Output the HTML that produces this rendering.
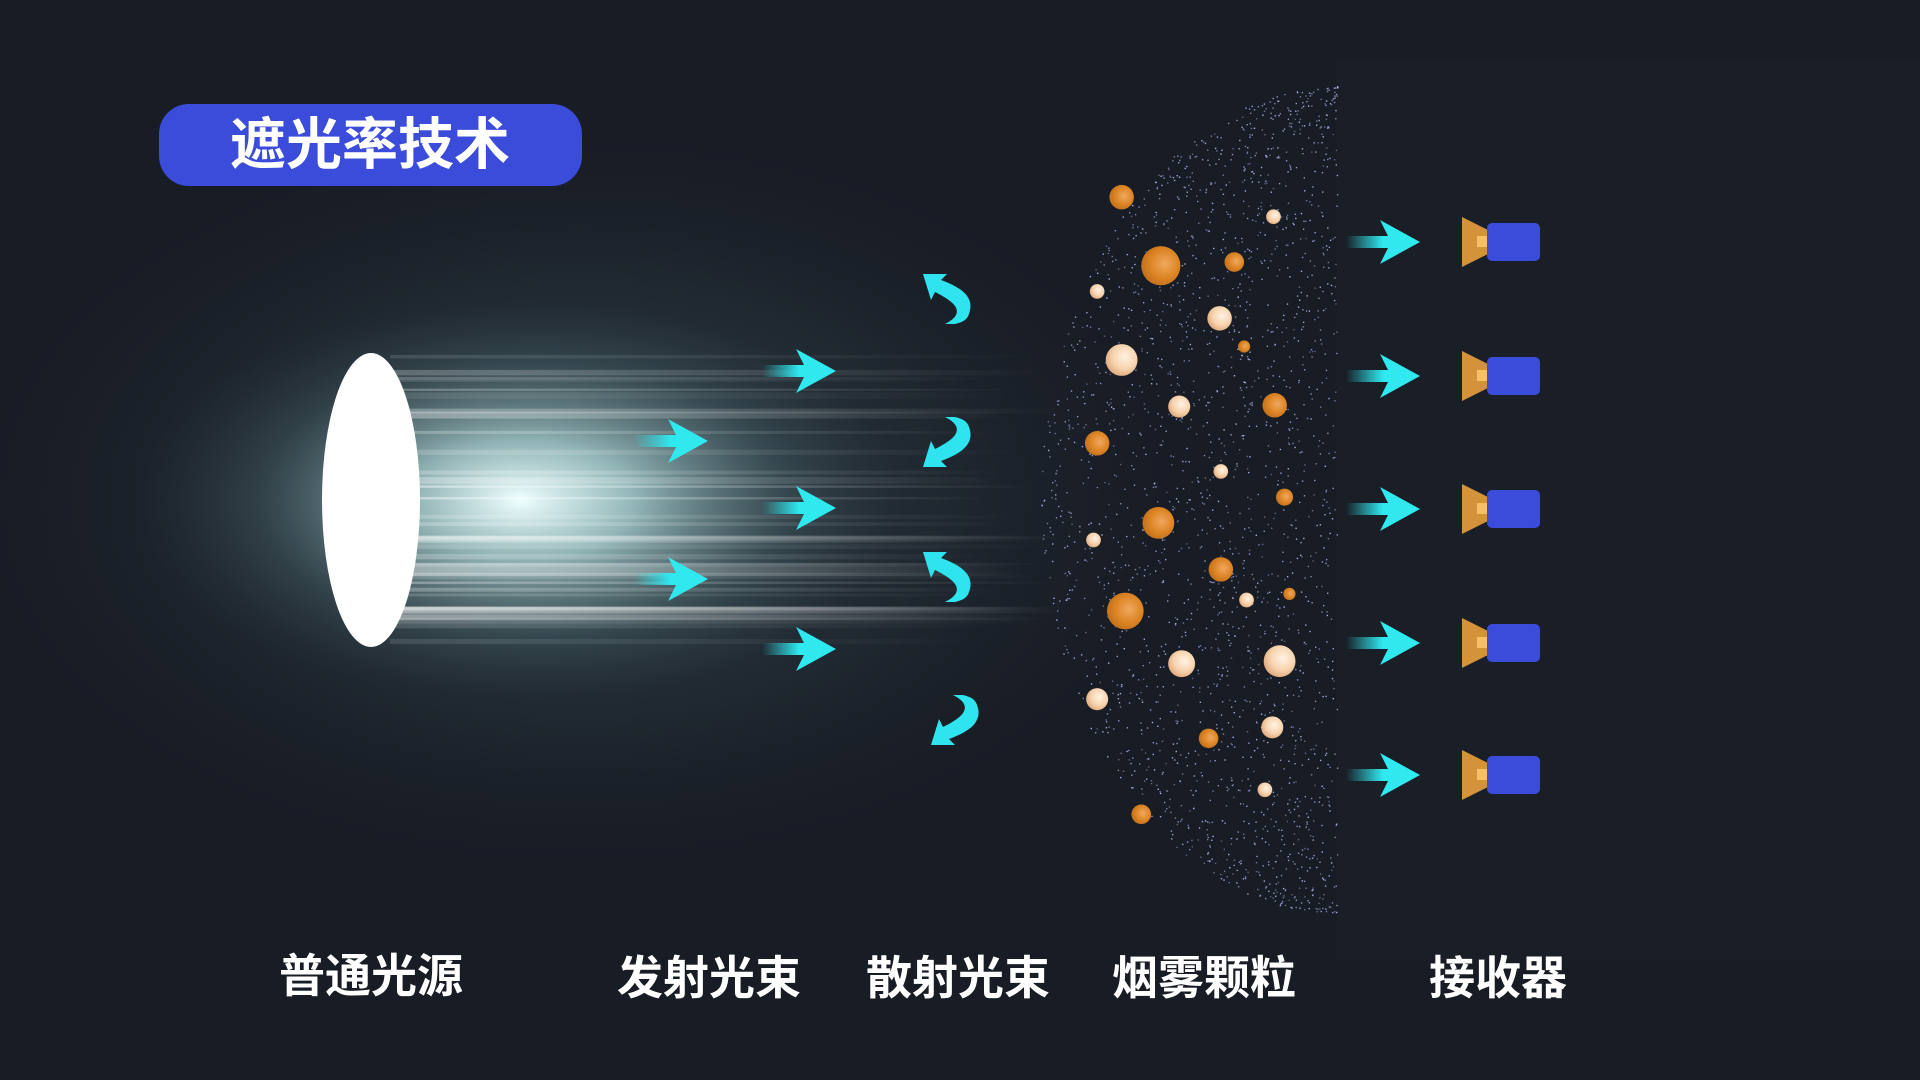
<!DOCTYPE html>
<html><head><meta charset="utf-8"><style>
html,body{margin:0;padding:0;background:#181c25;}
svg{display:block}
text{font-family:"Liberation Sans","Noto Sans CJK SC",sans-serif;font-weight:bold;fill:#fff}
</style></head><body>
<svg id="s" width="1920" height="1080" viewBox="0 0 1920 1080" xmlns="http://www.w3.org/2000/svg">
<defs>
<radialGradient id="glow" cx="0.5" cy="0.5" r="0.5">
<stop offset="0" stop-color="#5d7a80" stop-opacity="0.8"/>
<stop offset="0.35" stop-color="#34474f" stop-opacity="0.55"/>
<stop offset="0.7" stop-color="#222c35" stop-opacity="0.35"/>
<stop offset="1" stop-color="#181c25" stop-opacity="0"/>
</radialGradient>
<radialGradient id="core" cx="0.5" cy="0.5" r="0.5">
<stop offset="0" stop-color="#f0ffff" stop-opacity="1"/>
<stop offset="0.3" stop-color="#b5dede" stop-opacity="0.7"/>
<stop offset="0.7" stop-color="#5a7b80" stop-opacity="0.25"/>
<stop offset="1" stop-color="#3a5058" stop-opacity="0"/>
</radialGradient>
<linearGradient id="beam" x1="0" x2="1">
<stop offset="0" stop-color="#ffffff" stop-opacity="0.8"/>
<stop offset="0.6" stop-color="#ffffff" stop-opacity="0.35"/>
<stop offset="1" stop-color="#ffffff" stop-opacity="0"/>
</linearGradient>
<linearGradient id="arr" x1="0" x2="1">
<stop offset="0" stop-color="#2fe9ef" stop-opacity="0"/>
<stop offset="0.5" stop-color="#2fe9ef"/>
<stop offset="1" stop-color="#2fe9ef"/>
</linearGradient>
<radialGradient id="org" cx="0.6" cy="0.45" r="0.6">
<stop offset="0" stop-color="#f0a860"/><stop offset="0.6" stop-color="#dd8525"/><stop offset="1" stop-color="#c2701c"/>
</radialGradient>
<radialGradient id="pale" cx="0.6" cy="0.4" r="0.65">
<stop offset="0" stop-color="#fff3e3"/><stop offset="0.6" stop-color="#f6d2ad"/><stop offset="1" stop-color="#dfa77a"/>
</radialGradient>
<g id="ra"><path d="M-34,-6 L8,-6 L0,-22 L40,0 L0,22 L8,6 L-34,6 Z" fill="url(#arr)"/></g>
<g id="ca"><path d="M-22,-26 L2,-26 L-4,-20 C18,-12 30,-2 24,14 C22,20 18,22 10,24 L0,24 C12,18 14,12 10,6 C6,0 -6,-6 -10,-8 L-14,0 Z" fill="#2fe3ef"/></g>
</defs>
<rect width="1920" height="1080" fill="#181c25"/>
<rect x="1337" y="60" width="583" height="900" fill="#1a1e27"/>
<ellipse cx="580" cy="500" rx="640" ry="390" fill="url(#glow)"/>
<ellipse cx="520" cy="500" rx="380" ry="200" fill="url(#core)"/>
<g id="beams" opacity="0.9"></g>
<g id="dots"></g>
<g id="balls"></g>
<ellipse cx="371" cy="500" rx="49" ry="147" fill="#fff"/>
<rect x="159" y="104" width="423" height="82" rx="30" fill="#3a4cd9"/>
<text x="370" y="164" font-size="56" text-anchor="middle">遮光率技术</text>
<use href="#ra" x="796" y="371"/>
<use href="#ra" x="668" y="441"/>
<use href="#ra" x="796" y="508"/>
<use href="#ra" x="668" y="579"/>
<use href="#ra" x="796" y="649"/>
<use href="#ra" x="1380" y="242"/>
<use href="#ra" x="1380" y="376"/>
<use href="#ra" x="1380" y="509"/>
<use href="#ra" x="1380" y="643"/>
<use href="#ra" x="1380" y="775"/>
<use href="#ca" x="945" y="300"/>
<use href="#ca" transform="translate(945 441) scale(1 -1)"/>
<use href="#ca" x="945" y="578"/>
<use href="#ca" transform="translate(953 719) scale(1 -1)"/>
<g id="rec"></g>
<g font-size="46">
<text x="371" y="992" text-anchor="middle">普通光源</text>
<text x="709" y="994" text-anchor="middle">发射光束</text>
<text x="958" y="994" text-anchor="middle">散射光束</text>
<text x="1204" y="994" text-anchor="middle">烟雾颗粒</text>
<text x="1498" y="994" text-anchor="middle">接收器</text>
</g>
</svg>
<script>
var NS="http://www.w3.org/2000/svg";
function el(t,a,p){var e=document.createElementNS(NS,t);for(var k in a)e.setAttribute(k,a[k]);document.getElementById(p).appendChild(e);return e;}
var seed=7;function r(){seed=(seed*16807)%2147483647;return seed/2147483647;}
for(var i=0;i<45;i++){var y=355+r()*285;var d=Math.abs(y-500)/145;el('rect',{x:390,y:y,width:600+r()*90,height:2+r()*5,fill:'url(#beam)',opacity:(0.2+0.45*r())*(1-0.4*d)},'beams');}
for(var i=0;i<2200;i++){var y=86+r()*826;var t=(y-500)/413;var xl=1337-(1337-1041)*Math.sqrt(Math.max(0,1-t*t));var x=xl+r()*(1337-xl);el('rect',{x:x.toFixed(1),y:y.toFixed(1),width:1.4,height:1.4,fill:'#b9c2ff',opacity:0.4+0.5*r()},'dots');}
var B=[[916,161,10,0],[1040,177,6,1],[948,217,16,0],[1008,214,8,0],[896,238,6,1],[996,260,10,1],[1016,283,5,0],[916,294,13,1],[963,332,9,1],[1041,331,10,0],[896,362,10,0],[997,385,6,1],[1049,406,7,0],[946,427,13,0],[893,441,6,1],[997,465,10,0],[1018,490,6,1],[1053,485,5,0],[919,499,15,0],[965,542,11,1],[1045,540,13,1],[896,571,9,1],[1039,594,9,1],[987,603,8,0],[1033,645,6,1],[932,665,8,0]];
var k=1920/1568;B.forEach(function(b){el('circle',{cx:b[0]*k,cy:b[1]*k,r:b[2]*k,fill:b[3]?'url(#pale)':'url(#org)'},'balls');});
[242,376,509,643,775].forEach(function(y){el('path',{d:'M1462,'+(y-25)+' L1490,'+(y-11)+' L1490,'+(y+11)+' L1462,'+(y+25)+' Z',fill:'#d4923a'},'rec');el('rect',{x:1477,y:y-6,width:12,height:11,fill:'#f8be6a'},'rec');el('rect',{x:1487,y:y-19,width:53,height:38,rx:5,fill:'#3a4cd9'},'rec');});
</script>
</body></html>
